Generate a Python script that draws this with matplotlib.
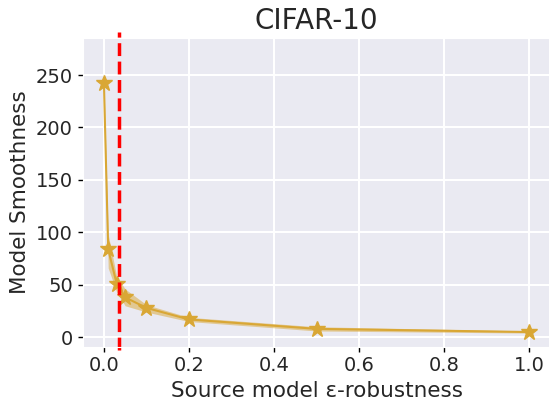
import numpy as np
import seaborn as sns
from matplotlib import pyplot as plt

# source model epsilon values and measured smoothness
eps = [0.0, 0.01, 0.03, 0.05, 0.1, 0.2, 0.5, 1.0]
smooth_mean = [242, 84, 51, 38, 28, 17, 8, 5]
smooth_low = [242, 66, 43, 30, 24, 15, 6, 4]
smooth_high = [242, 98, 58, 46, 31, 19, 10, 6]
eps_threshold = 0.035

sns.set_style("darkgrid")
plt.rcParams['font.family'] = ['DejaVu Sans']

fig = plt.figure(figsize=(5.49, 4.03), dpi=100)
ax = fig.add_axes([0.1506, 0.1397, 0.852, 0.7667])
ax.grid(True, color="white", lw=1.5)

color = "#d9a735"
ax.fill_between(eps, smooth_low, smooth_high, color=color, alpha=0.5, lw=0)
ax.plot(eps, smooth_mean, color=color, lw=1.5, marker="*", markersize=12)
ax.axvline(eps_threshold, color="red", ls="--", lw=2.5, ymin=-0.01, ymax=1.02, clip_on=False)

ax.set_xlim(-0.05, 1.05)
ax.set_ylim(-9, 285.6)
ax.set_xticks([0.0, 0.2, 0.4, 0.6, 0.8, 1.0])
ax.set_yticks([0, 50, 100, 150, 200, 250])
ax.tick_params(axis="both", labelsize=14, length=3.5, width=1, color="black", direction="out")
ax.tick_params(axis="both", which="major", bottom=True, left=True)
ax.set_title("CIFAR-10", fontsize=20)
ax.set_xlabel("Source model ε-robustness", fontsize=15.5)
ax.set_ylabel("Model Smoothness", fontsize=15.5)

fig.savefig("out.png", dpi=100)
